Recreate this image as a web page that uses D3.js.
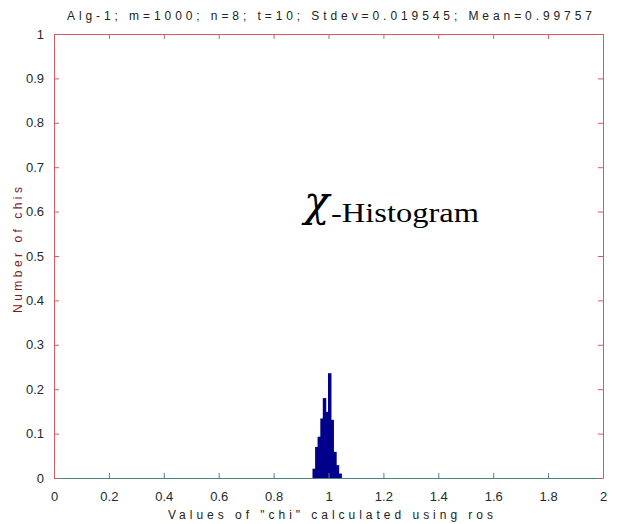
<!DOCTYPE html>
<html>
<head>
<meta charset="utf-8">
<script src="https://cdn.jsdelivr.net/npm/d3@7"></script>
<style>
  body { margin: 0; background: #fff; }
  svg { display: block; }
  text { font-family: "Liberation Sans", Arial, sans-serif; }
</style>
</head>
<body>
<svg id="svg" width="623" height="524"></svg>
<script>
// histogram bins (left edge) and normalised heights
const binEdges = [0.9435, 0.953, 0.962, 0.972, 0.981, 0.990, 1.000, 1.009, 1.018, 1.028, 1.037, 1.047];
const binValues = [0.021, 0.070, 0.093, 0.134, 0.180, 0.149, 0.236, 0.131, 0.059, 0.029, 0.010];

const xTicks = [0, 0.2, 0.4, 0.6, 0.8, 1, 1.2, 1.4, 1.6, 1.8, 2];
const yTicks = [0, 0.1, 0.2, 0.3, 0.4, 0.5, 0.6, 0.7, 0.8, 0.9, 1];

const titleText = 'Alg-1; m=1000; n=8; t=10; Stdev=0.019545; Mean=0.99757';
const xLabel = 'Values of "chi" calculated using ros';
const yLabel = 'Number of chis';

const svg = d3.select('#svg');
const padding = {top: 34, right: 20, bottom: 46, left: 54};
const chartArea = {
    width: 623 - padding.left - padding.right,
    height: 524 - padding.top - padding.bottom
};

const xScale = d3.scaleLinear().domain([0, 2]).range([0, chartArea.width]);
const yScale = d3.scaleLinear().domain([0, 1]).range([chartArea.height, 0]);

const g = svg.append('g')
    .attr('transform', 'translate(' + padding.left + ',' + padding.top + ')');

// bars (slightly overlapped so no white seams show between them)
const bins = binValues.map((v, i) => ({x0: binEdges[i], x1: binEdges[i + 1], v: v}));
g.selectAll('rect.bar').data(bins)
    .enter()
    .append('rect')
    .attr('class', 'bar')
    .attr('x', d => xScale(d.x0) - 0.5)
    .attr('width', d => xScale(d.x1) - xScale(d.x0) + 1)
    .attr('y', d => yScale(d.v))
    .attr('height', d => chartArea.height - yScale(d.v))
    .attr('fill', '#00008a');

// axes, matlab style: inward ticks on all four sides
const axisColorA = '#4f7f84';
const axisColorB = '#d45c5c';
const tickLen = 5;

function styleAxis(sel, color, showText) {
    sel.select('.domain').attr('stroke', color).attr('stroke-width', 1);
    sel.selectAll('.tick line').attr('stroke', color);
    sel.selectAll('.tick text')
        .attr('fill', '#1d2a2e')
        .style('font-size', '13px')
        .style('font-family', '"Liberation Sans", Arial, sans-serif');
    if (!showText) sel.selectAll('.tick text').remove();
}

const bottomAxis = g.append('g')
    .attr('transform', 'translate(0,' + chartArea.height + ')')
    .call(d3.axisBottom(xScale).tickValues(xTicks).tickFormat(d3.format('~g'))
        .tickSizeInner(-tickLen).tickSizeOuter(0).tickPadding(tickLen + 9));
styleAxis(bottomAxis, axisColorA, true);

const topAxis = g.append('g')
    .call(d3.axisTop(xScale).tickValues(xTicks).tickSizeInner(-tickLen).tickSizeOuter(0));
styleAxis(topAxis, axisColorB, false);

const leftAxis = g.append('g')
    .call(d3.axisLeft(yScale).tickValues(yTicks).tickFormat(d3.format('~g'))
        .tickSizeInner(-tickLen).tickSizeOuter(0).tickPadding(tickLen + 5));
styleAxis(leftAxis, axisColorB, true);

const rightAxis = g.append('g')
    .attr('transform', 'translate(' + chartArea.width + ',0)')
    .call(d3.axisRight(yScale).tickValues(yTicks).tickSizeInner(-tickLen).tickSizeOuter(0));
styleAxis(rightAxis, axisColorB, false);

// title
svg.append('text')
    .attr('x', 67)
    .attr('y', 20)
    .attr('textLength', 525)
    .attr('lengthAdjust', 'spacing')
    .style('font-size', '12px')
    .attr('fill', '#222')
    .text(titleText);

// x label
svg.append('text')
    .attr('x', 168)
    .attr('y', 519)
    .attr('textLength', 325)
    .attr('lengthAdjust', 'spacing')
    .style('font-size', '12px')
    .attr('fill', '#222')
    .text(xLabel);

// y label
svg.append('text')
    .attr('transform', 'translate(22,313) rotate(-90)')
    .attr('textLength', 126)
    .attr('lengthAdjust', 'spacing')
    .style('font-size', '12px')
    .attr('fill', '#7a1c1c')
    .text(yLabel);

// chi-Histogram annotation
svg.append('text')
    .attr('x', 304)
    .attr('y', 216)
    .style('font-family', '"DejaVu Serif", serif')
    .style('font-size', '42px')
    .style('font-style', 'italic')
    .attr('fill', '#000')
    .text('\u03C7');
svg.append('text')
    .attr('x', 331)
    .attr('y', 222)
    .attr('textLength', 148)
    .attr('lengthAdjust', 'spacingAndGlyphs')
    .style('font-family', '"Liberation Serif", "Times New Roman", serif')
    .style('font-size', '27px')
    .attr('fill', '#000')
    .text('-Histogram');
</script>
</body>
</html>
